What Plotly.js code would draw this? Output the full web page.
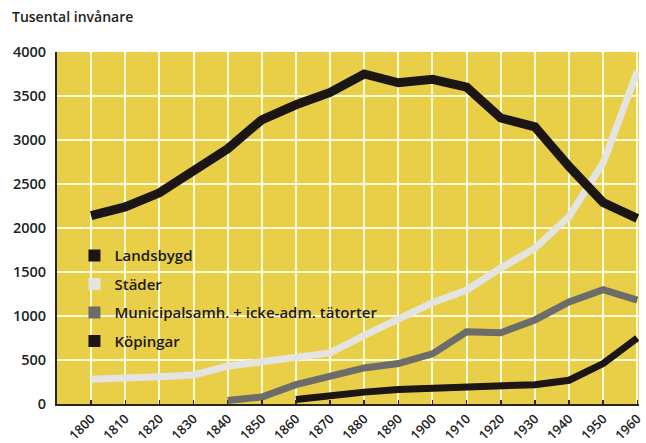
<!DOCTYPE html>
<html>
<head>
<meta charset="utf-8">
<script src="https://cdn.plot.ly/plotly-3.0.1.min.js"></script>
<style>html,body{margin:0;padding:0;background:#fff;}#chart{width:646px;height:443px;}</style>
</head>
<body>
<div id="chart"></div>
<script>
var years = [1800,1810,1820,1830,1840,1850,1860,1870,1880,1890,1900,1910,1920,1930,1940,1950,1960];
var landsbygd = [2140,2240,2400,2650,2900,3230,3400,3540,3750,3650,3690,3600,3250,3150,2700,2290,2110];
var stader = [280,290,310,330,430,480,540,580,780,975,1150,1295,1545,1770,2130,2740,3780];
var munYears = [1840,1850,1860,1870,1880,1890,1900,1910,1920,1930,1940,1950,1960];
var municipal = [40,80,220,320,410,460,570,820,810,955,1160,1300,1180];
var kopYears = [1860,1870,1880,1890,1900,1910,1920,1930,1940,1950,1960];
var kopingar = [50,100,135,165,180,190,210,220,270,460,750];
var seriesNames = ['Landsbygd','Städer','Municipalsamh. + icke-adm. tätorter','Köpingar'];
var seriesColors = ['#1b1613','#e4e4e2','#6c6c6a','#1b1613'];
var xTicks = years;
var yTicks = [0,500,1000,1500,2000,2500,3000,3500,4000];

var traces = [
  {x: years, y: stader, mode:'lines', line:{color:seriesColors[1], width:7}, showlegend:false, hoverinfo:'skip'},
  {x: munYears, y: municipal, mode:'lines', line:{color:seriesColors[2], width:7}, showlegend:false, hoverinfo:'skip'},
  {x: kopYears, y: kopingar, mode:'lines', line:{color:seriesColors[3], width:7}, showlegend:false, hoverinfo:'skip'},
  {x: years, y: landsbygd, mode:'lines', line:{color:seriesColors[0], width:9}, showlegend:false, hoverinfo:'skip'}
];
seriesNames.forEach(function(n,i){
  traces.push({x:[null], y:[null], mode:'markers', name:n, legendgroup:'g'+i,
    marker:{symbol:'square', size:12, color:seriesColors[i]}});
});

var yTickFont = {family:'Open Sans, Lato, sans-serif', size:14.5, color:'#222', weight:600};
var xTickFont = {family:'Open Sans, Lato, sans-serif', size:13, color:'#222', weight:600};
var layout = {
  width:646, height:443,
  margin:{l:57, r:7, t:52, b:39},
  paper_bgcolor:'#ffffff',
  plot_bgcolor:'#e9cf48',
  font:{family:'Open Sans, Lato, sans-serif', color:'#222'},
  showlegend:true,
  legend:{x:0.03, y:0.468, xanchor:'left', yanchor:'top', bgcolor:'rgba(0,0,0,0)',
    font:{family:'Open Sans, Lato, sans-serif', size:15, color:'#1a1a1a', weight:600},
    traceorder:'grouped', tracegroupgap:6, itemwidth:30},
  annotations:[{text:'Tusental invånare', xref:'paper', yref:'paper', x:-0.08, y:1.0, yshift:36,
    xanchor:'left', yanchor:'middle', showarrow:false,
    font:{family:'Open Sans, Lato, sans-serif', size:14, color:'#222', weight:600}}],
  xaxis:{range:[1790,1960.5], tickvals:xTicks, ticktext:xTicks.map(String), tickangle:-45,
    tickfont:xTickFont, showgrid:true, gridcolor:'rgba(255,253,230,0.95)', gridwidth:2,
    zeroline:false, showline:true, linecolor:'#2a2520', linewidth:2,
    ticks:'inside', ticklen:4, tickcolor:'#2a2520', tickwidth:1.5, ticklabelstandoff:0, fixedrange:true},
  yaxis:{range:[0,4000], tickvals:yTicks, tickfont:yTickFont, showgrid:true,
    gridcolor:'rgba(255,253,230,0.95)', gridwidth:2, zeroline:false, showline:true,
    linecolor:'#2a2520', linewidth:2, ticks:'', ticklabelstandoff:6, fixedrange:true}
};
Plotly.newPlot('chart', traces, layout, {displayModeBar:false, staticPlot:true});
</script>
</body>
</html>
